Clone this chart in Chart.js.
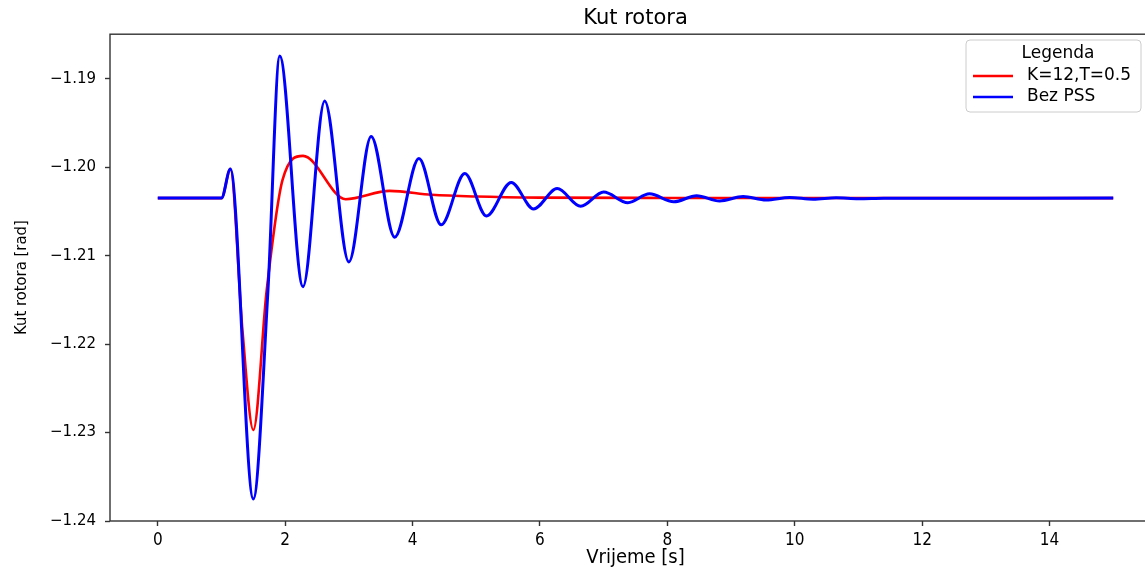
<!DOCTYPE html>
<html>
<head>
<meta charset="utf-8">
<title>Kut rotora</title>
<script src="https://cdn.jsdelivr.net/npm/chart.js@4.4.1/dist/chart.umd.min.js"></script>
<style>
  html, body { margin: 0; padding: 0; background: #fff; overflow: hidden; }
  #wrap { position: relative; width: 1170px; height: 567px; }
</style>
</head>
<body>
<div id="wrap"><canvas id="chart" width="1170" height="567"></canvas></div>
<script>
// values (time in s, angle in rad)
const tRed = [0, 1.0, 1.14, 1.33, 1.5, 1.71, 1.96, 2.28, 2.95, 3.64, 4.3, 5.0, 6.0, 8.0, 15];
const vRed = [-1.20348, -1.20348, -1.2002, -1.2185, -1.2297, -1.2139, -1.2014, -1.1987, -1.2036,
              -1.20266, -1.2031, -1.2033, -1.20342, -1.20346, -1.20348];

const tBlue = [0, 1.0, 1.14, 1.5, 1.73, 1.915, 2.28, 2.62, 3.0, 3.35, 3.72, 4.10, 4.45, 4.82,
               5.16, 5.55, 5.90, 6.27, 6.64, 7.0, 7.38, 7.72, 8.1, 8.46, 8.82, 9.19, 9.55,
               9.92, 10.29, 10.65, 11.0, 11.4, 15];
const vBlue = [-1.20348, -1.20348, -1.2002, -1.2375, -1.2139, -1.1874, -1.2135, -1.1925, -1.2107,
               -1.1965, -1.2079, -1.1990, -1.2065, -1.2007, -1.2055, -1.2017, -1.2047, -1.2024,
               -1.2044, -1.2028, -1.2040, -1.2030, -1.2039, -1.2032, -1.2038, -1.2033, -1.2037,
               -1.2034, -1.2036, -1.20345, -1.20355, -1.2035, -1.20348];

const xTicks = [0, 2, 4, 6, 8, 10, 12, 14];
const yTicks = [-1.24, -1.23, -1.22, -1.21, -1.20, -1.19];

const seriesNames = ['K=12,T=0.5', 'Bez PSS'];
const legendTitle = 'Legenda';

const condensed = '"DejaVu Sans Condensed", "DejaVu Sans"';

function toPoints(ts, vs) {
    return ts.map((t, i) => ({x: t, y: vs[i]}));
}

function minusLabel(v) {
    // matplotlib style unicode minus
    return (v < 0 ? '\u2212' : '') + Math.abs(v).toFixed(2);
}

// box around the plot + legend in the upper right corner
const framePlugin = {
    id: 'frame',
    afterDraw(chart) {
        const ctx = chart.ctx;
        const a = chart.chartArea;
        ctx.save();
        ctx.strokeStyle = '#333';
        ctx.lineWidth = 1.4;
        ctx.strokeRect(a.left, a.top, a.right - a.left, a.bottom - a.top);

        // legend
        const bx = 966, by = 40, bw = 175, bh = 72;
        ctx.beginPath();
        ctx.roundRect(bx, by, bw, bh, 4);
        ctx.fillStyle = 'rgba(255,255,255,0.85)';
        ctx.fill();
        ctx.strokeStyle = '#cccccc';
        ctx.lineWidth = 1;
        ctx.stroke();

        ctx.fillStyle = '#000';
        ctx.font = '17px "DejaVu Sans"';
        ctx.textAlign = 'center';
        ctx.textBaseline = 'middle';
        ctx.fillText(legendTitle, 1058, 54);

        ctx.textAlign = 'left';
        chart.data.datasets.forEach((ds, i) => {
            const y = 76 + i * 21;
            ctx.strokeStyle = ds.borderColor;
            ctx.lineWidth = 2.5;
            ctx.beginPath();
            ctx.moveTo(973, y);
            ctx.lineTo(1013, y);
            ctx.stroke();
            ctx.fillStyle = '#000';
            ctx.fillText(ds.label, 1027, y);
        });
        ctx.restore();
    }
};

Chart.defaults.font.family = '"DejaVu Sans"';
Chart.defaults.color = '#000';

new Chart(document.getElementById('chart'), {
    type: 'line',
    data: {
        datasets: [
            {
                label: seriesNames[0],
                data: toPoints(tRed, vRed),
                borderColor: '#ff0000',
                borderWidth: 2.6,
                pointRadius: 0,
                cubicInterpolationMode: 'monotone',
                order: 1
            },
            {
                label: seriesNames[1],
                data: toPoints(tBlue, vBlue),
                borderColor: '#0000ff',
                borderWidth: 3,
                pointRadius: 0,
                cubicInterpolationMode: 'monotone',
                order: 0
            }
        ]
    },
    options: {
        responsive: false,
        animation: false,
        layout: {padding: {left: 0, right: 9, top: 0, bottom: 0}},
        plugins: {
            legend: {display: false},
            tooltip: {enabled: false},
            title: {
                display: true,
                text: 'Kut rotora',
                color: '#000',
                fullSize: false, // centre over the plot like matplotlib
                font: {size: 21, weight: 'normal'},
                padding: {top: 6, bottom: 3}
            }
        },
        scales: {
            x: {
                type: 'linear',
                min: -0.75,
                max: 15.75,
                afterBuildTicks: scale => { scale.ticks = xTicks.map(v => ({value: v})); },
                afterFit: scale => { scale.height = 46; },
                ticks: {
                    font: {size: 17, family: condensed},
                    padding: 4,
                    maxRotation: 0
                },
                grid: {drawOnChartArea: false, drawTicks: true, tickLength: 5, tickColor: '#333', tickWidth: 1.4},
                border: {display: false},
                title: {
                    display: true,
                    text: 'Vrijeme [s]',
                    font: {size: 20, family: condensed},
                    padding: {top: 0, bottom: -3}
                }
            },
            y: {
                type: 'linear',
                min: -1.2400,
                max: -1.18494,
                afterBuildTicks: scale => { scale.ticks = yTicks.map(v => ({value: v})); },
                afterFit: scale => { scale.width = 110; },
                ticks: {
                    font: {size: 15},
                    padding: 9,
                    callback: v => minusLabel(v)
                },
                grid: {drawOnChartArea: false, drawTicks: true, tickLength: 5, tickColor: '#333', tickWidth: 1.4},
                border: {display: false},
                title: {
                    display: true,
                    text: 'Kut rotora [rad]',
                    font: {size: 16.5, family: condensed},
                    padding: {top: 12, bottom: 0}
                }
            }
        }
    },
    plugins: [framePlugin]
});
</script>
</body>
</html>
